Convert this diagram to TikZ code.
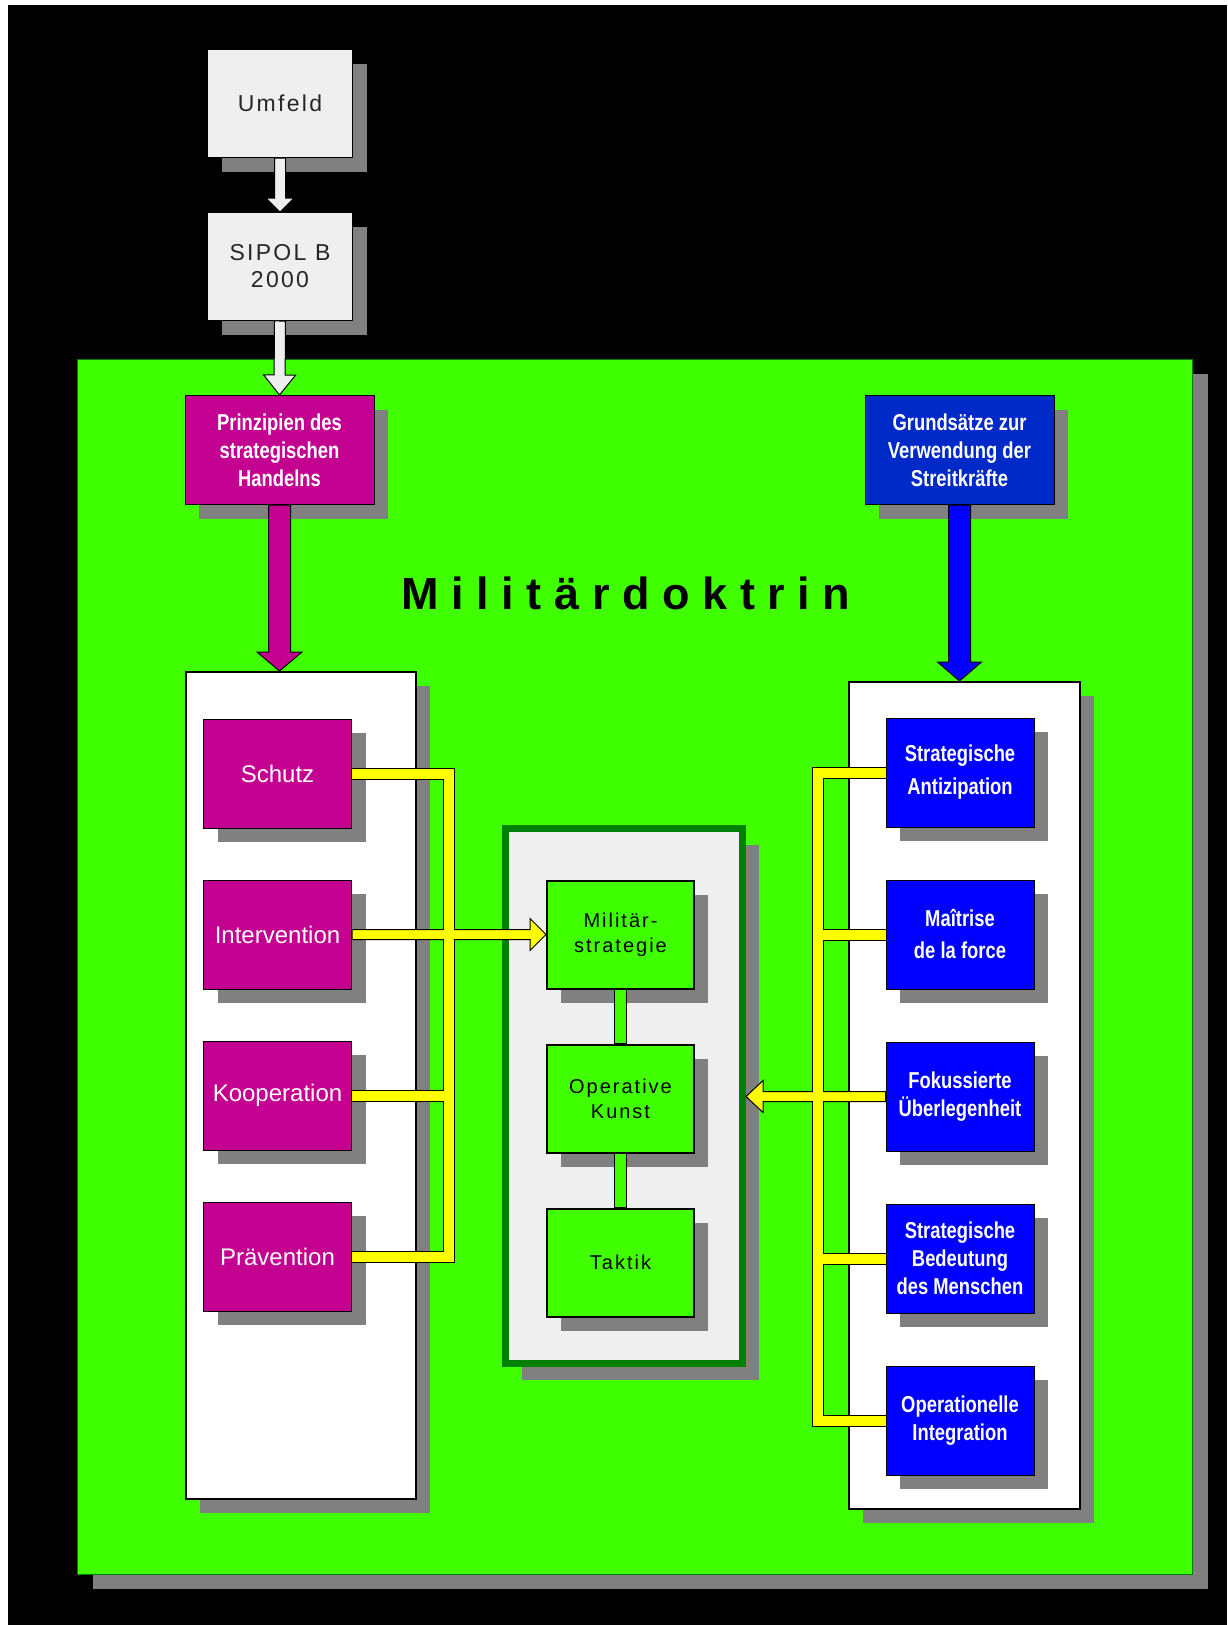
\documentclass[tikz,border=0pt]{standalone}
\usepackage{fontspec}
\setmainfont{Liberation Sans}
\newfontfamily\narrowfont[FakeStretch=0.80]{Liberation Sans}
\newfontfamily\widefont[LetterSpace=10]{Liberation Sans}
\newfontfamily\titlefont[LetterSpace=28]{Liberation Sans}
\usetikzlibrary{positioning,calc,shadows}

\definecolor{panelgreen}{RGB}{64,255,0}
\definecolor{darkgreen}{RGB}{0,128,0}
\definecolor{shadowgray}{RGB}{128,128,128}
\definecolor{boxgray}{RGB}{239,239,239}
\definecolor{magentabox}{RGB}{196,0,144}
\definecolor{navyblue}{RGB}{0,42,200}
\definecolor{pureblue}{RGB}{0,0,255}
\definecolor{busyellow}{RGB}{255,255,0}

\newcommand\fatarrow[6][]{%
  \path ($(#3)!#6!(#2)$) coordinate (fa-base);
  \draw[line join=miter,#1] ($(#2)!#4!90:(#3)$) -- ($(fa-base)!#4!90:(#3)$)
    -- ($(fa-base)!#5!90:(#3)$) -- (#3) -- ($(fa-base)!#5!-90:(#3)$)
    -- ($(fa-base)!#4!-90:(#3)$) -- ($(#2)!#4!-90:(#3)$) -- cycle;}

\newcommand\buslines{(schutz.east) -- (lbus1) -- (lbus4) -- (praevention.east)
  (kooperation.east) -- (kooperation.east -| lbus1)
  (antizipation.west) -- (rbus1) -- (rbus5) -- (operationelle.west)
  (maitrise.west) -- (maitrise.west -| rbus1)
  (bedeutung.west) -- (bedeutung.west -| rbus1)}

\begin{document}
\begin{tikzpicture}[x=1pt,y=-1pt,
    shade/.style={drop shadow={shadow xshift=14pt,shadow yshift=-14pt,fill=shadowgray,opacity=1}},
    panel/.style={shade,draw=black,line width=2pt,fill=white,minimum width=230pt,minimum height=827pt},
    topbox/.style={shade,draw=black,line width=1pt,fill=boxgray,minimum width=145pt,minimum height=108pt,
      inner sep=0pt,align=center,text=black!85,font=\widefont\fontsize{23}{27}\selectfont},
    headbox/.style={shade,draw=black,line width=1pt,text=white,minimum width=189pt,minimum height=109pt,
      inner sep=0pt,align=center,font=\narrowfont\bfseries\fontsize{23}{28}\selectfont},
    magbox/.style={shade,draw=black,line width=1pt,fill=magentabox,text=white,minimum width=148pt,
      minimum height=109pt,inner sep=0pt,font=\fontsize{24}{28}\selectfont},
    bluebox/.style={shade,draw=black,line width=1pt,fill=pureblue,text=white,minimum width=148pt,
      minimum height=109pt,inner sep=0pt,align=center,font=\narrowfont\bfseries\fontsize{23}{28}\selectfont},
    levelbox/.style={shade,draw=black,line width=2pt,fill=panelgreen,minimum width=147pt,minimum height=108pt,
      inner sep=0pt,align=center,font=\widefont\fontsize{20}{25}\selectfont},
    link/.style={draw=black,line width=1pt,fill=panelgreen},
    busedge/.style={line width=12pt,black,line join=miter},
    busfill/.style={line width=10pt,busyellow,line join=miter}]
  \useasboundingbox (0,0) rectangle (1227,1625);
  \fill[white] (0,0) rectangle (1227,1625);
  \fill[black] (8,5) rectangle (1227,1625);

  \node[fill=panelgreen,draw=darkgreen,line width=1pt,minimum width=1115pt,minimum height=1215pt,
    drop shadow={shadow xshift=15pt,shadow yshift=-14pt,fill=shadowgray,opacity=1}] (doctrine) at (635,967) {};
  \node[panel] (lpanel) at (301,1085.5) {};
  \node[panel,minimum width=231pt] (rpanel) at (964.5,1095.5) {};
  \node[draw=darkgreen,line width=7pt,fill=boxgray,minimum width=237pt,minimum height=535pt,
    drop shadow={shadow xshift=16.5pt,shadow yshift=-16.5pt,fill=shadowgray,opacity=1}] (frame) at (624,1096) {};

  \node[anchor=base west,font=\titlefont\bfseries\fontsize{45}{50}\selectfont] (title) at (398,609) {Militärdoktrin};

  \node[topbox] (umfeld) at (280,103.5) {Umfeld};
  \node[topbox,below=54pt of umfeld] (sipol) {SIPOL B\\2000};
  \node[headbox,fill=magentabox] (prinzipien) at (279.5,450) {Prinzipien des\\strategischen\\Handelns};
  \node[headbox,fill=navyblue] (grundsaetze) at (959.5,450) {Grundsätze zur\\Verwendung der\\Streitkräfte};

  \node[magbox] (schutz) at (277.5,773.5) {Schutz};
  \node[magbox,below=51pt of schutz] (intervention) {Intervention};
  \node[magbox,below=51pt of intervention] (kooperation) {Kooperation};
  \node[magbox,below=51pt of kooperation] (praevention) {Prävention};

  \node[bluebox] (antizipation) at (960,772.5) {Strategische\\[5pt]Antizipation};
  \node[bluebox,below=52pt of antizipation] (maitrise) {Maîtrise\\[4pt]de la force};
  \node[bluebox,below=52pt of maitrise] (fokus) {Fokussierte\\Überlegenheit};
  \node[bluebox,below=52pt of fokus] (bedeutung) {Strategische\\Bedeutung\\des Menschen};
  \node[bluebox,below=52pt of bedeutung] (operationelle) {Operationelle\\Integration};

  \node[levelbox] (strategie) at (620.5,934.5) {Militär-\\strategie};
  \node[levelbox,below=54pt of strategie] (kunst) {Operative\\Kunst};
  \node[levelbox,below=54pt of kunst] (taktik) {Taktik};
  \draw[link] ($(strategie.south)+(-6,0)$) rectangle ($(kunst.north)+(6,0)$);
  \draw[link] ($(kunst.south)+(-6,0)$) rectangle ($(taktik.north)+(6,0)$);

  \coordinate (magtip) at (prinzipien.south |- lpanel.north);
  \coordinate (bluetip) at (grundsaetze.south |- rpanel.north);
  \coordinate (fokustip) at (frame.east |- fokus.west);
  \path (schutz.east) ++(97,0) coordinate (lbus1);
  \coordinate (lbus4) at (praevention.east -| lbus1);
  \path (antizipation.west) ++(-67.5,0) coordinate (rbus1);
  \coordinate (rbus5) at (operationelle.west -| rbus1);

  \fatarrow[fill=boxgray,draw=black,line width=1pt]{umfeld.south}{sipol.north}{5.5pt}{14pt}{14pt}
  \fatarrow[fill=boxgray,draw=black,line width=1pt]{sipol.south}{prinzipien.north}{5.5pt}{16pt}{20pt}
  \fatarrow[fill=magentabox,draw=black,line width=1pt]{prinzipien.south}{magtip}{11pt}{22.5pt}{19pt}
  \fatarrow[fill=pureblue,draw=black,line width=1pt]{grundsaetze.south}{bluetip}{11pt}{22pt}{19pt}

  \draw[busedge] \buslines;
  \fatarrow[fill=busyellow,draw=black,line width=1pt]{intervention.east}{strategie.west}{5pt}{16pt}{16pt}
  \fatarrow[fill=busyellow,draw=black,line width=1pt]{fokus.west}{fokustip}{5pt}{16pt}{17pt}
  \draw[busfill] \buslines;
\end{tikzpicture}
\end{document}
